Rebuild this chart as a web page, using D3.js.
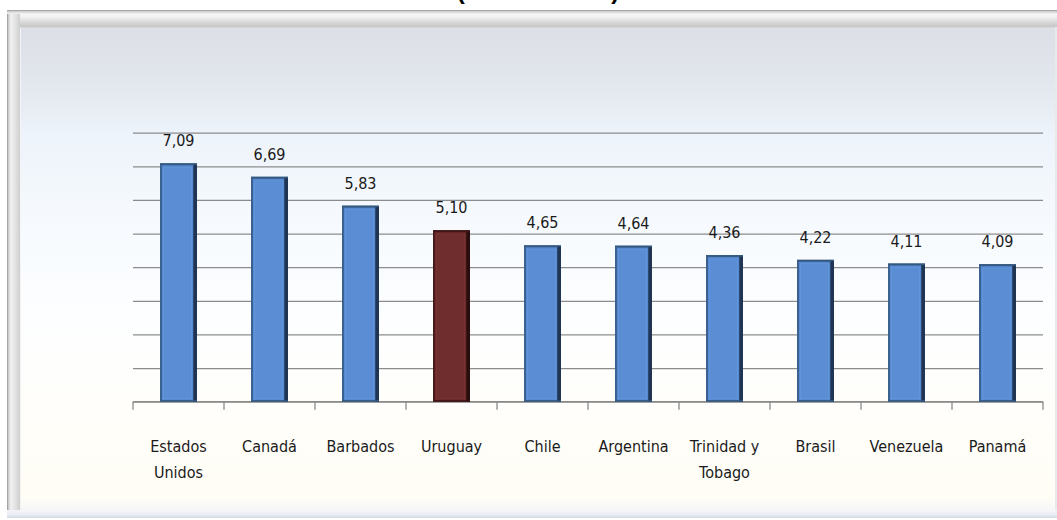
<!DOCTYPE html>
<html>
<head>
<meta charset="utf-8">
<script src="https://cdn.jsdelivr.net/npm/d3@7/dist/d3.min.js"></script>
<style>
  html, body { margin: 0; padding: 0; background: #ffffff; }
  svg { display: block; }
</style>
</head>
<body>
<svg id="chart" width="1057" height="520"></svg>
<script>
// ---- data ----
const categories = ["Estados Unidos", "Canadá", "Barbados", "Uruguay", "Chile", "Argentina", "Trinidad y Tobago", "Brasil", "Venezuela", "Panamá"];
const values = [7.09, 6.69, 5.83, 5.10, 4.65, 4.64, 4.36, 4.22, 4.11, 4.09];
const valueLabels = ["7,09", "6,69", "5,83", "5,10", "4,65", "4,64", "4,36", "4,22", "4,11", "4,09"];
const highlighted = ["Uruguay"];
const categoryLines = [["Estados", "Unidos"], ["Canadá"], ["Barbados"], ["Uruguay"], ["Chile"], ["Argentina"], ["Trinidad y", "Tobago"], ["Brasil"], ["Venezuela"], ["Panamá"]];
const yTicks = [0, 1, 2, 3, 4, 5, 6, 7, 8];
const titleText = "(                      )";

// ---- layout ----
const W = 1057, H = 520;
const plot = { left: 133, right: 1043, top: 132.7, bottom: 401.7 };
const font = "'Liberation Sans Narrow', 'DejaVu Sans Condensed', 'Liberation Sans', sans-serif";

const svg = d3.select("#chart");
const defs = svg.append("defs");

function vGrad(id, stops, horizontal) {
  const g = defs.append("linearGradient").attr("id", id)
    .attr("x1", 0).attr("y1", 0).attr("x2", horizontal ? 1 : 0).attr("y2", horizontal ? 0 : 1);
  stops.forEach(s => g.append("stop").attr("offset", s[0]).attr("stop-color", s[1]));
}
vGrad("panelGrad", [[0, "#dcdfe5"], [0.1, "#e1e5ec"], [0.22, "#edf3fa"], [0.4, "#f6fafe"], [0.6, "#fdfeff"], [0.8, "#fffefa"], [0.97, "#fffdf5"], [1, "#f4f5f8"]]);
vGrad("topBevel", [[0, "#8f8f8f"], [0.08, "#cfcfcf"], [0.25, "#f7f7f7"], [0.45, "#eeeeee"], [0.8, "#d2d2d2"], [1, "#c6c6c6"]]);
vGrad("leftBevel", [[0, "#8f8f8f"], [0.1, "#c9c9c9"], [0.3, "#f2f2f2"], [0.6, "#e4e4e4"], [1, "#cfcfcf"]], true);
vGrad("bottomBevel", [[0, "#f3f4f8"], [0.6, "#e9ecf2"], [1, "#d3dae6"]]);

// frame
svg.append("rect").attr("x", 7).attr("y", 10).attr("width", W).attr("height", 508).attr("fill", "#e9e9e9");
svg.append("rect").attr("x", 7).attr("y", 10).attr("width", W).attr("height", 17).attr("fill", "url(#topBevel)");
svg.append("rect").attr("x", 7).attr("y", 14).attr("width", 13).attr("height", 504).attr("fill", "url(#leftBevel)");
svg.append("rect").attr("x", 7).attr("y", 510).attr("width", W).attr("height", 8).attr("fill", "url(#bottomBevel)");
svg.append("rect").attr("x", 20).attr("y", 27).attr("width", 1035).attr("height", 485).attr("fill", "url(#panelGrad)");
svg.append("line").attr("x1", 20.5).attr("x2", 20.5).attr("y1", 27).attr("y2", 512).attr("stroke", "#f4f4f4").attr("stroke-width", 1);
svg.append("line").attr("x1", 20).attr("x2", 1055).attr("y1", 27.5).attr("y2", 27.5).attr("stroke", "#d4d7dc").attr("stroke-width", 1);

// title (only bottom visible)
svg.append("text").attr("x", 538).attr("y", -1).attr("text-anchor", "middle")
  .attr("font-family", "'Liberation Sans', Arial, sans-serif").attr("font-weight", "bold").attr("font-size", 24)
  .attr("fill", "#000").style("white-space", "pre").text(titleText);

// scales
const x = d3.scaleBand().domain(categories).range([plot.left, plot.right]).paddingInner(0).paddingOuter(0);
const y = d3.scaleLinear().domain([0, 8]).range([plot.bottom, plot.top]);

// gridlines
const grid = svg.append("g").attr("transform", `translate(${plot.left},0)`)
  .call(d3.axisLeft(y).tickValues(yTicks).tickSize(-(plot.right - plot.left)).tickFormat(""));
grid.select(".domain").remove();
grid.selectAll(".tick line").attr("stroke", "#8c8c8c").attr("stroke-width", 1.3);

// x axis: line + boundary ticks
const boundaries = categories.map(c => x(c)).concat([x.range()[1]]);
const xAxis = svg.append("g");
xAxis.append("line").attr("x1", plot.left).attr("x2", plot.right).attr("y1", plot.bottom).attr("y2", plot.bottom)
  .attr("stroke", "#8a8a8a").attr("stroke-width", 1.3);
xAxis.selectAll("line.tk").data(boundaries).join("line").attr("class", "tk")
  .attr("x1", d => d).attr("x2", d => d).attr("y1", plot.bottom).attr("y2", plot.bottom + 8)
  .attr("stroke", "#8a8a8a").attr("stroke-width", 1.3);

// bars
const barW = 37;
const bars = svg.append("g");
categories.forEach((c, i) => {
  const hl = highlighted.includes(c);
  const cx = x(c) + x.bandwidth() / 2;
  const x0 = cx - barW / 2;
  const y0 = y(values[i]);
  const h = plot.bottom - y0;
  const edge = hl ? "#4a1b1b" : "#3a6190";
  const fill = hl ? "#6c2a2a" : "#5689cf";
  const inner = hl ? "#6f2d2d" : "#5a8dd3";
  const shadow = hl ? "#2a0e0e" : "#1f3553";
  const g = bars.append("g");
  g.append("rect").attr("x", x0).attr("y", y0).attr("width", barW).attr("height", h).attr("fill", edge);
  g.append("rect").attr("x", x0 + 2).attr("y", y0 + 2).attr("width", barW - 6).attr("height", h - 3).attr("fill", fill);
  g.append("rect").attr("x", x0 + 3.5).attr("y", y0 + 4).attr("width", barW - 9).attr("height", h - 7)
    .attr("fill", inner).attr("stroke", hl ? "#7a3636" : "#6497da").attr("stroke-width", 0.8);
  g.append("rect").attr("x", x0 + barW - 3.5).attr("y", y0 + 1).attr("width", 3.5).attr("height", h - 1).attr("fill", shadow);
  g.append("rect").attr("x", x0).attr("y", y0).attr("width", barW).attr("height", 1.5).attr("fill", hl ? "#3e1616" : "#35587f");
  g.append("rect").attr("x", x0).attr("y", plot.bottom - 1.5).attr("width", barW).attr("height", 1.5).attr("fill", hl ? "#3e1616" : "#35587f");
});

// value labels
svg.append("g").selectAll("text").data(categories).join("text")
  .attr("x", c => x(c) + x.bandwidth() / 2)
  .attr("y", (c, i) => y(values[i]) - 17)
  .attr("text-anchor", "middle")
  .attr("font-family", font).attr("font-size", 16).attr("fill", "#1a1a1a")
  .text((c, i) => valueLabels[i]);

// category labels
const cl = svg.append("g");
categories.forEach((c, i) => {
  const t = cl.append("text").attr("x", x(c) + x.bandwidth() / 2).attr("y", 451.5)
    .attr("text-anchor", "middle").attr("font-family", font).attr("font-size", 16).attr("fill", "#1a1a1a");
  categoryLines[i].forEach((ln, k) => {
    t.append("tspan").attr("x", x(c) + x.bandwidth() / 2).attr("dy", k === 0 ? 0 : 26.5).text(ln);
  });
});
</script>
</body>
</html>
